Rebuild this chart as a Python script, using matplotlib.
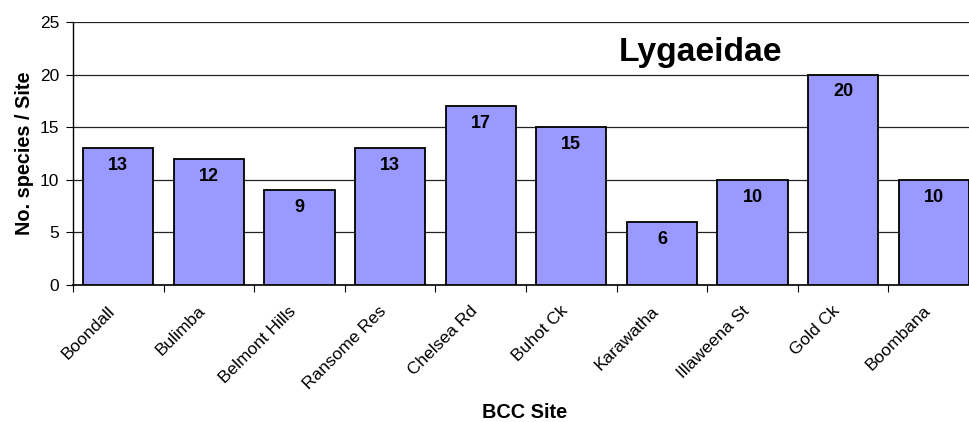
import matplotlib.pyplot as plt
import matplotlib.transforms as mtransforms
import numpy as np

sites = ['Boondall', 'Bulimba', 'Belmont Hills', 'Ransome Res', 'Chelsea Rd',
         'Buhot Ck', 'Karawatha', 'Illaweena St', 'Gold Ck', 'Boombana']
species = [13, 12, 9, 13, 17, 15, 6, 10, 20, 10]

plt.rcParams['font.family'] = ['Liberation Sans', 'DejaVu Sans']

fig = plt.figure(figsize=(9.69, 4.22), dpi=100)
# axes runs a little past the right edge, like the original (last bar is cut)
ax = fig.add_axes([73 / 969, 1 - 285 / 422, 906 / 969, 263 / 422])

x = np.arange(len(sites))
ax.bar(x, species, width=0.775, color='#9999FF', edgecolor='black', linewidth=1.3, zorder=3)
for xi, v in zip(x, species):
    ax.text(xi, v - 1.65, str(v), ha='center', va='center', fontsize=13, fontweight='bold', zorder=4)

ax.set_xlim(-0.5, len(sites) - 0.5)
ax.set_ylim(0, 25)
ax.set_yticks(range(0, 26, 5))
ax.yaxis.grid(True, color='#222222', linewidth=0.9, zorder=0)
ax.set_axisbelow(True)
for s in ['top', 'right']:
    ax.spines[s].set_visible(False)
ax.spines['left'].set_linewidth(1.0)
ax.spines['bottom'].set_linewidth(1.2)

ax.set_xticks(x - 0.5, minor=False)
ax.set_xticklabels([])
ax.tick_params(axis='x', length=5, direction='out')
ax.set_xticks(x, minor=True)
ax.set_xticklabels(sites, minor=True, rotation=45, ha='right', va='center',
                   rotation_mode='anchor', fontsize=12.5)
ax.tick_params(axis='x', which='minor', length=0, pad=17)
# nudge the slanted labels a bit to the left
shift = mtransforms.ScaledTranslation(-0.06, 0, fig.dpi_scale_trans)
for lab in ax.get_xticklabels(minor=True):
    lab.set_transform(lab.get_transform() + shift)
ax.tick_params(axis='y', length=5, direction='out', labelsize=12.5, pad=5)

ax.set_ylabel('No. species / Site', fontsize=14.3, fontweight='bold', labelpad=4)
ax.set_xlabel('BCC Site', fontsize=14.3, fontweight='bold', va='center')
ax.xaxis.set_label_coords(452 / 906, -127 / 263)
ax.text(6.43, 22.1, 'Lygaeidae', ha='center', va='center', fontsize=24.3, fontweight='bold')

plt.savefig('out.png', dpi=100)
